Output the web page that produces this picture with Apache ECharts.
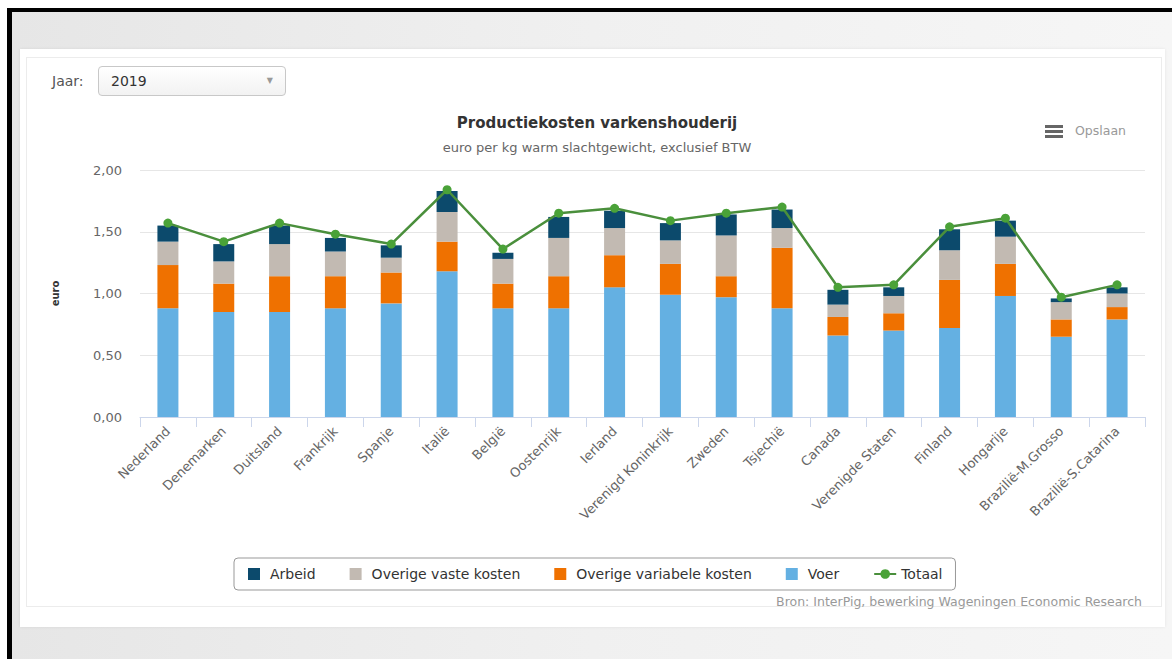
<!DOCTYPE html>
<html>
<head>
<meta charset="utf-8">
<script src="https://cdn.jsdelivr.net/npm/echarts@6/dist/echarts.min.js"></script>
<style>
  html, body { margin:0; padding:0; width:1172px; height:659px; overflow:hidden; background:#ffffff; font-family:"DejaVu Sans", Verdana, sans-serif; }
  #frameTop { position:absolute; left:7px; top:8px; width:1165px; height:4px; background:#000; }
  #frameLeft { position:absolute; left:7px; top:8px; width:5px; height:651px; background:#000; }
  #bg { position:absolute; left:12px; top:12px; width:1160px; height:647px; background:linear-gradient(90deg,#e6e6e6 0%,#f0f0f0 50%,#f6f6f6 100%); }
  #panel { position:absolute; left:20px; top:49px; width:1145px; height:578px; background:#fff; box-shadow:0 0 3px rgba(0,0,0,0.08); }
  #inner { position:absolute; left:26px; top:57px; width:1134px; height:548px; border:1px solid #ececec; }
  #jaar { position:absolute; left:52px; top:73px; font-size:14px; color:#555; }
  #sel { position:absolute; left:98px; top:66px; width:188px; height:30px; border:1px solid #c8c8c8; border-radius:4px; background:linear-gradient(#ffffff,#f2f2f2); box-sizing:border-box; }
  #sel .v { position:absolute; left:12px; top:6px; font-size:14px; color:#333; }
  #sel .a { position:absolute; right:12px; top:9px; font-size:8px; color:#999; }
  #save { position:absolute; left:1040px; top:121px; width:95px; height:22px; }
  #save .h { position:absolute; left:5px; top:4px; width:18px; height:3px; background:#666; box-shadow:0 5px 0 #666, 0 10px 0 #666; }
  #save .t { position:absolute; left:35px; top:2px; font-size:12.5px; color:#999; }
  #chart { position:absolute; left:0; top:0; width:1172px; height:659px; }
</style>
</head>
<body>
<div id="bg"></div>
<div id="frameTop"></div>
<div id="frameLeft"></div>
<div id="panel"></div>
<div id="inner"></div>
<div id="jaar">Jaar:</div>
<div id="sel"><span class="v">2019</span><span class="a">▼</span></div>
<div id="save"><div class="h"></div><span class="t">Opslaan</span></div>
<div id="chart"></div>
<script>
const categories = ['Nederland','Denemarken','Duitsland','Frankrijk','Spanje','Italië','België','Oostenrijk','Ierland','Verenigd Koninkrijk','Zweden','Tsjechië','Canada','Verenigde Staten','Finland','Hongarije','Brazilië-M.Grosso','Brazilië-S.Catarina'];
const voer = [0.88,0.85,0.85,0.88,0.92,1.18,0.88,0.88,1.05,0.99,0.97,0.88,0.66,0.70,0.72,0.98,0.65,0.79];
const overigeVariabele = [0.35,0.23,0.29,0.26,0.25,0.24,0.20,0.26,0.26,0.25,0.17,0.49,0.15,0.14,0.39,0.26,0.14,0.10];
const overigeVaste = [0.19,0.18,0.26,0.20,0.12,0.24,0.20,0.31,0.22,0.19,0.33,0.16,0.10,0.14,0.24,0.22,0.14,0.11];
const arbeid = [0.13,0.14,0.15,0.11,0.10,0.17,0.05,0.17,0.14,0.14,0.17,0.15,0.12,0.07,0.17,0.13,0.03,0.05];
const totaal = [1.57,1.42,1.57,1.48,1.40,1.84,1.36,1.65,1.69,1.59,1.65,1.70,1.05,1.07,1.54,1.61,0.97,1.07];
const yTicks = [0, 0.5, 1, 1.5, 2];

const FONT = '"DejaVu Sans", Verdana, sans-serif';
const SQUARE = 'path://M0,0H10V10H0Z';
const chart = echarts.init(document.getElementById('chart'), null, {renderer:'svg'});
const barW = 21;
chart.setOption({
  animation:false,
  backgroundColor:'transparent',
  textStyle:{fontFamily:FONT},
  title:{
    text:'Productiekosten varkenshouderij',
    subtext:'euro per kg warm slachtgewicht, exclusief BTW',
    left:597, top:115, textAlign:'center', padding:0, itemGap:11,
    textStyle:{fontSize:15, fontWeight:'bold', color:'#333', fontFamily:FONT},
    subtextStyle:{fontSize:13, color:'#666', fontFamily:FONT}
  },
  grid:{left:140, right:27, top:170, bottom:242, containLabel:false},
  legend:{
    left:234, top:558,
    padding:[9,13,9,14], itemGap:34, itemWidth:22, itemHeight:12,
    symbolKeepAspect:true,
    borderColor:'#999', borderWidth:1, borderRadius:4,
    textStyle:{fontSize:14, color:'#333', fontFamily:FONT},
    data:[
      {name:'Arbeid', icon:SQUARE},
      {name:'Overige vaste kosten', icon:SQUARE},
      {name:'Overige variabele kosten', icon:SQUARE},
      {name:'Voer', icon:SQUARE},
      {name:'Totaal'}
    ]
  },
  graphic:[{
    type:'text', x:1142, y:595,
    style:{text:'Bron: InterPig, bewerking Wageningen Economic Research', fill:'#999', fontSize:12.5, fontFamily:FONT, textAlign:'right'}
  }],
  xAxis:{
    type:'category', data:categories, boundaryGap:true,
    axisLine:{lineStyle:{color:'#ccd6eb'}},
    axisTick:{show:true, length:10, alignWithLabel:false, lineStyle:{color:'#ccd6eb'}},
    axisLabel:{rotate:45, interval:0, fontSize:13, color:'#666', margin:12, fontFamily:FONT}
  },
  yAxis:{
    type:'value', min:0, max:2, interval:0.5,
    name:'euro', nameLocation:'middle', nameRotate:90, nameGap:80,
    nameTextStyle:{fontSize:10, fontWeight:'bold', color:'#333', fontFamily:FONT},
    axisLine:{show:false}, axisTick:{show:false},
    splitLine:{lineStyle:{color:'#e6e6e6'}},
    axisLabel:{fontSize:13, color:'#666', margin:18, fontFamily:FONT,
      formatter:v=>v.toFixed(2).replace('.',',')}
  },
  series:[
    {name:'Voer', type:'bar', stack:'k', barWidth:barW, data:voer, itemStyle:{color:'#64b0e2'}},
    {name:'Overige variabele kosten', type:'bar', stack:'k', barWidth:barW, data:overigeVariabele, itemStyle:{color:'#ef7100'}},
    {name:'Overige vaste kosten', type:'bar', stack:'k', barWidth:barW, data:overigeVaste, itemStyle:{color:'#c2bab2'}},
    {name:'Arbeid', type:'bar', stack:'k', barWidth:barW, data:arbeid, itemStyle:{color:'#0c4a6c'}},
    {name:'Totaal', type:'line', data:totaal, symbol:'circle', symbolSize:9,
      lineStyle:{color:'#4a8f3c', width:2.5}, itemStyle:{color:'#4aa238'}, z:5}
  ]
});
</script>
</body>
</html>
